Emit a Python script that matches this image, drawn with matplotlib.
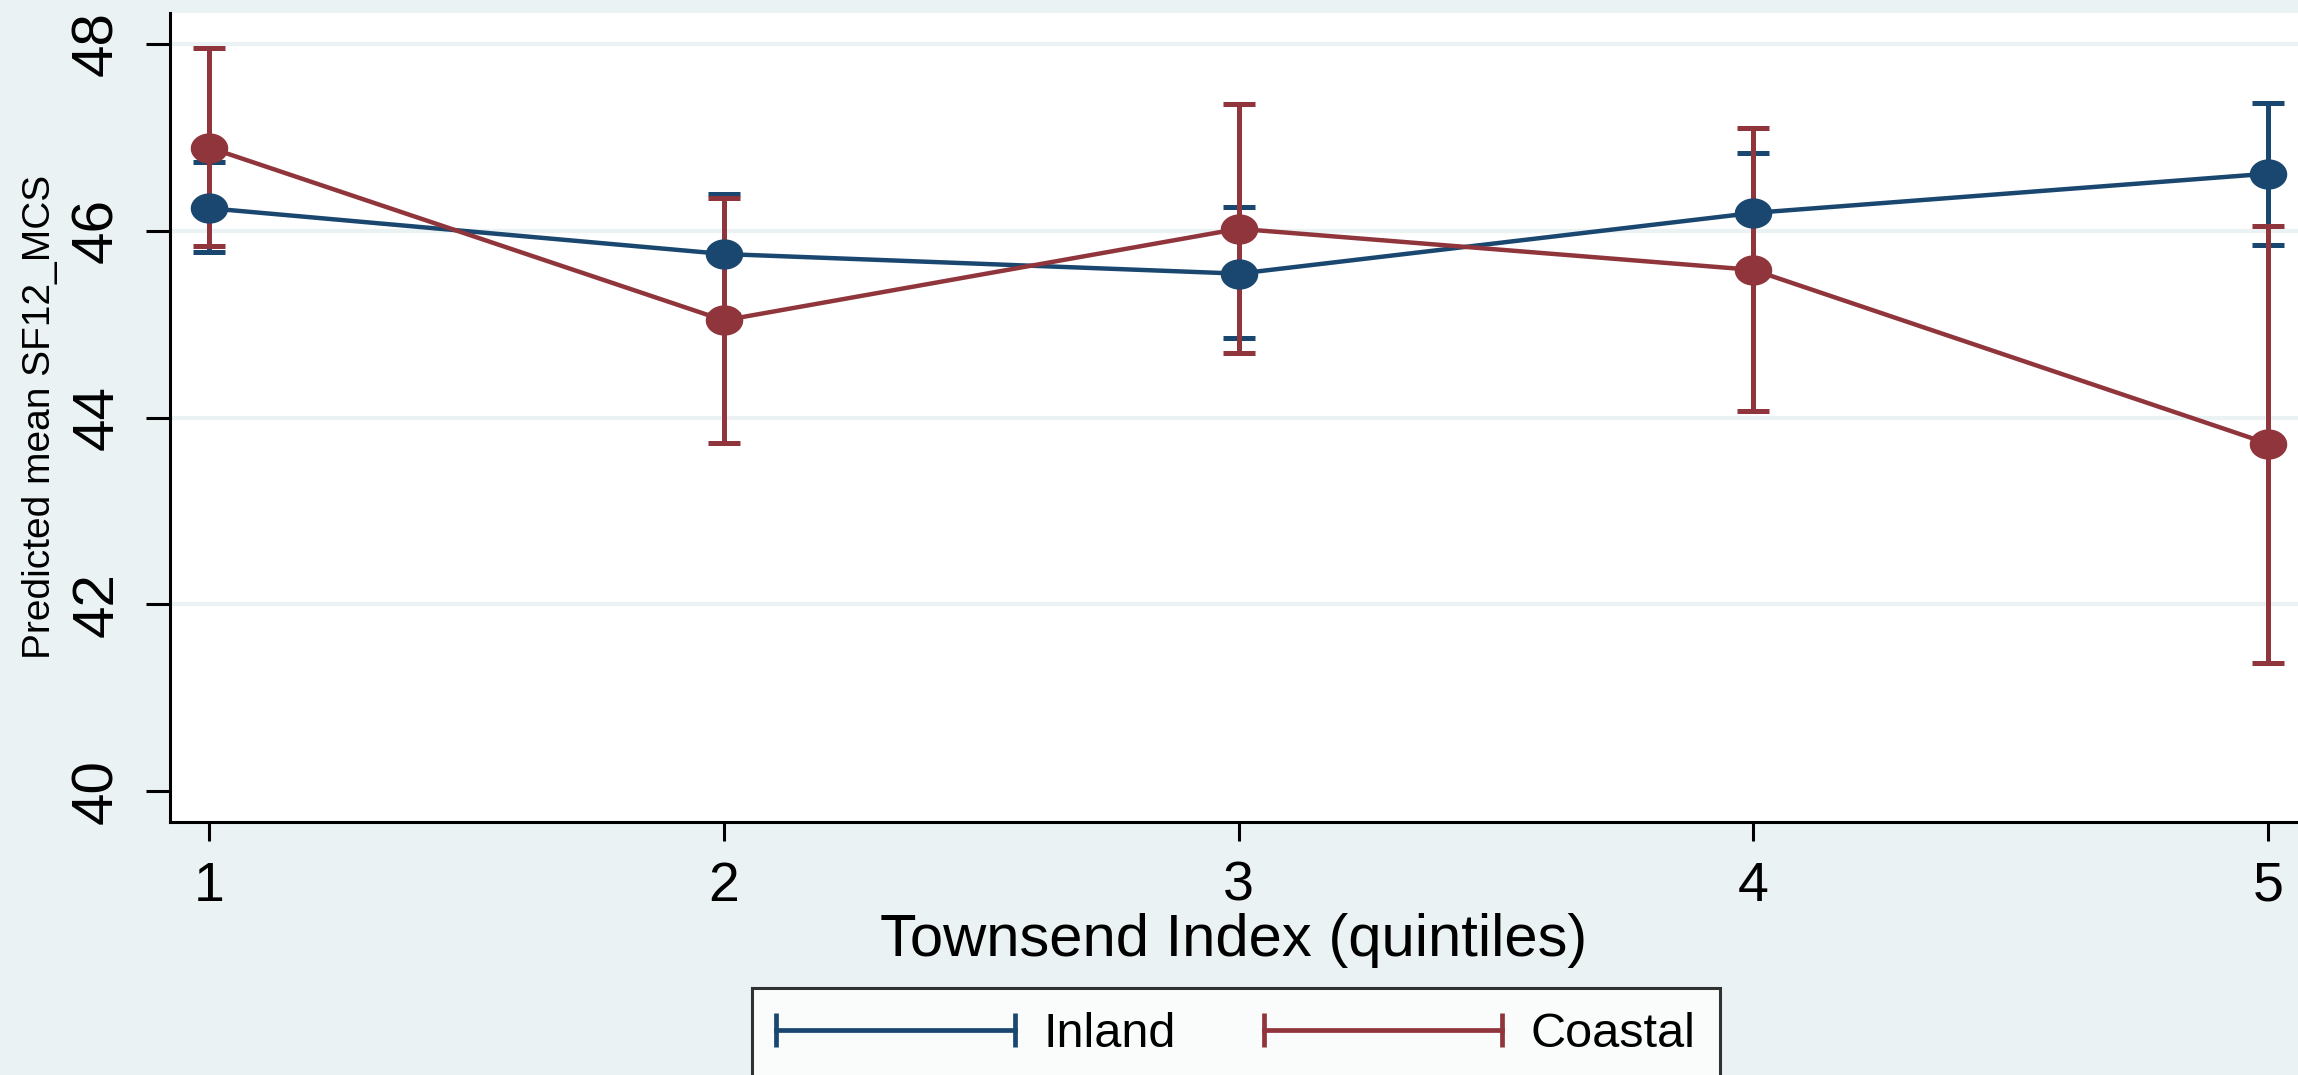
import matplotlib
matplotlib.use("Agg")
import matplotlib.pyplot as plt
import numpy as np
from matplotlib.path import Path
from matplotlib.lines import Line2D
from matplotlib.legend_handler import HandlerLine2D

plt.rcParams['font.family'] = ['Liberation Sans', 'DejaVu Sans']

# data (predictive margins with 95% CI)
townsend = [1, 2, 3, 4, 5]
inland_mean = [46.24, 45.75, 45.54, 46.19, 46.61]
inland_lo = [45.77, 45.11, 44.85, 45.55, 45.85]
inland_hi = [46.73, 46.39, 46.25, 46.83, 47.37]
coastal_mean = [46.89, 45.04, 46.02, 45.58, 43.72]
coastal_lo = [45.84, 43.73, 44.69, 44.07, 41.37]
coastal_hi = [47.95, 46.35, 47.36, 47.10, 46.05]
yticks = [40, 42, 44, 46, 48]

navy = '#1a476f'
maroon = '#90353b'
bg = '#eaf2f3'

W, H = 2298, 1075
fig = plt.figure(figsize=(W / 100, H / 100), dpi=100, facecolor=bg)
ax = fig.add_axes([170 / W, 1 - 822 / H, 1 - 170 / W, (822 - 13) / H])
ax.set_facecolor('white')

# slightly flattened circle, like the stretched stata markers
t = np.linspace(0, 2 * np.pi, 80)
ell = Path(np.column_stack([np.cos(t), 0.8 * np.sin(t)]), closed=True)

for yv in yticks[1:]:
    ax.axhline(yv, color=bg, lw=3, zorder=0)

for m, lo, hi, col in [(inland_mean, inland_lo, inland_hi, navy),
                       (coastal_mean, coastal_lo, coastal_hi, maroon)]:
    m = np.array(m)
    err = [m - np.array(lo), np.array(hi) - m]
    ax.errorbar(townsend, m, yerr=err, fmt='none', ecolor=col,
                elinewidth=3.6, capsize=11.5, capthick=3.6, zorder=2)

for m, col in [(inland_mean, navy), (coastal_mean, maroon)]:
    ax.plot(townsend, m, color=col, lw=3.2, marker=ell, markersize=26,
            markerfacecolor=col, markeredgecolor=col, zorder=3)

ax.set_xlim(0.924, 5.058)
ax.set_ylim(39.67, 48.33)
ax.set_xticks(townsend)
ax.set_yticks(yticks)
for s in ['top', 'right']:
    ax.spines[s].set_visible(False)
for s in ['left', 'bottom']:
    ax.spines[s].set_linewidth(2.2)
ax.tick_params(axis='x', direction='out', length=14, width=2.2, pad=14, labelsize=40)
ax.tick_params(axis='y', direction='out', length=17, width=2.2, pad=16, labelsize=42,
               labelrotation=90)
for lab in ax.get_yticklabels():
    lab.set_va('center')

ax.set_xlabel('Townsend Index (quintiles)', fontsize=43, labelpad=0)
fig.text(40 / W, 1 - 417 / H, 'Predicted mean SF12_MCS', rotation=90,
         ha='center', va='center', fontsize=28)

handles = [Line2D([0], [0], color=navy, lw=3.4, marker='|', markersize=24, mew=3.4),
           Line2D([0], [0], color=maroon, lw=3.4, marker='|', markersize=24, mew=3.4)]
leg = fig.legend(handles, ['Inland', 'Coastal'], loc='upper left',
                 bbox_to_anchor=(752 / W, 1 - 988 / H), ncol=2, numpoints=2,
                 fontsize=35, frameon=True, fancybox=False, borderaxespad=0,
                 borderpad=0.5, handlelength=4.9, handletextpad=0.6,
                 columnspacing=1.8,
                 handler_map={Line2D: HandlerLine2D(marker_pad=0)})
leg.get_frame().set_edgecolor('black')
leg.get_frame().set_linewidth(2.2)
leg.get_frame().set_facecolor('white')

fig.savefig('out.png', dpi=100, facecolor=bg)
